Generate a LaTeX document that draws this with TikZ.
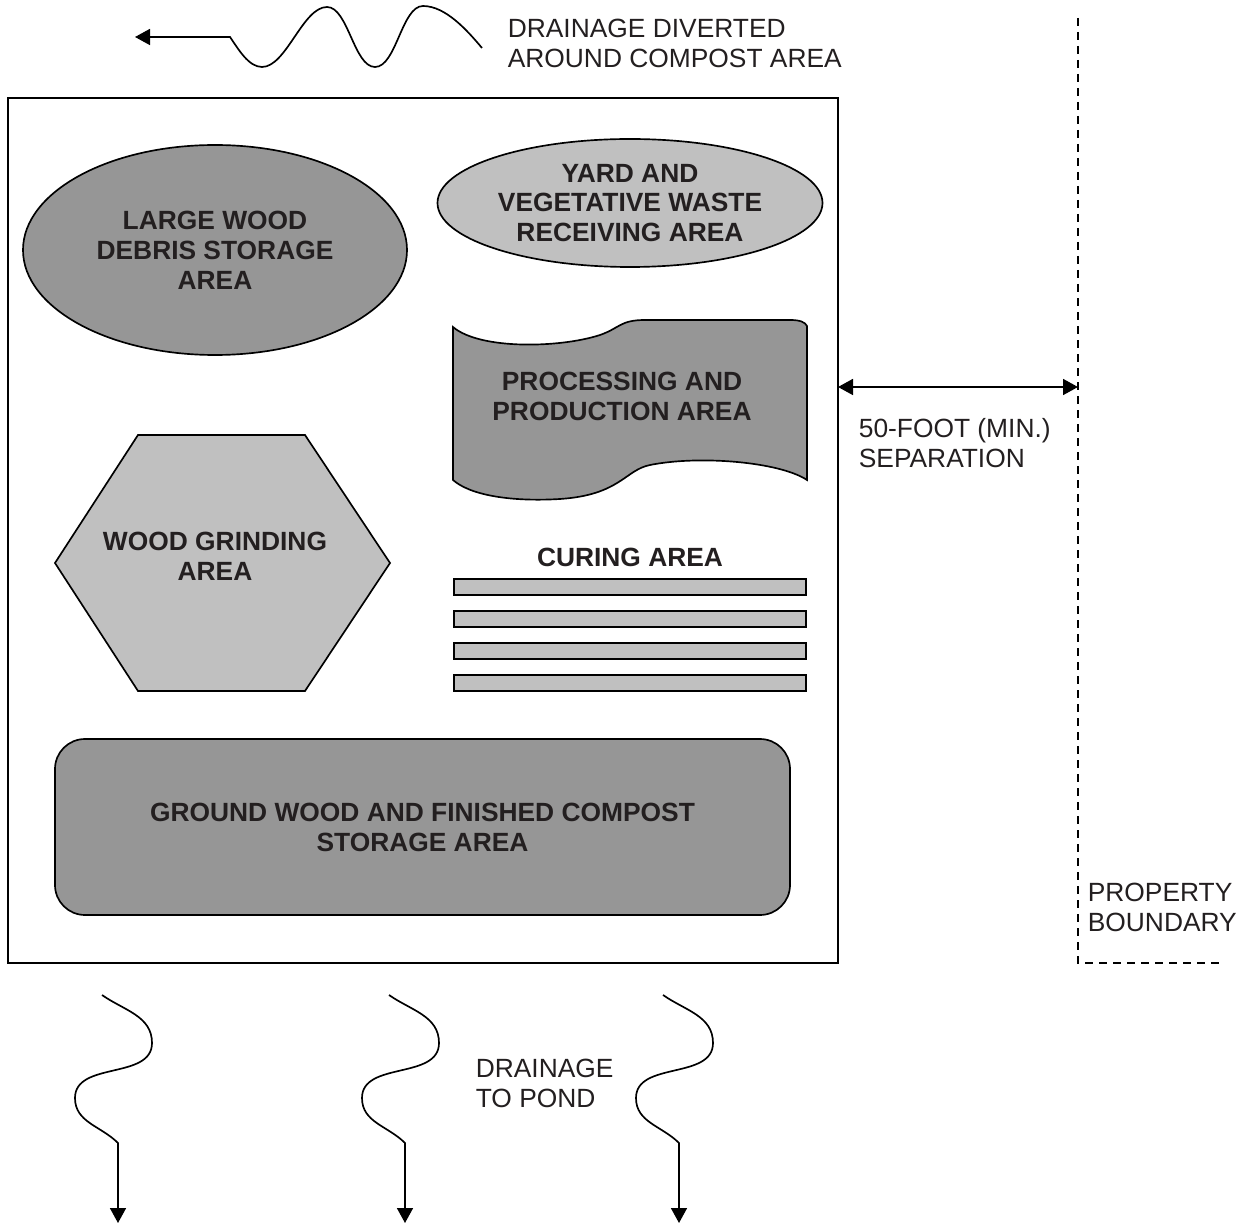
\documentclass[tikz,border=0pt]{standalone}
\usepackage{fontspec}
\setmainfont{Liberation Sans}
\usepackage{tikz}
\usetikzlibrary{positioning}
\usetikzlibrary{shapes.geometric}
\usetikzlibrary{arrows.meta}

\definecolor{darkfill}{RGB}{150,150,150}
\definecolor{lightfill}{RGB}{192,192,192}
\definecolor{inkgray}{RGB}{35,31,32}

\begin{document}
\begin{tikzpicture}[x=0.2mm, y=-0.2mm, line width=0.95pt,
	area/.style={font=\bfseries\fontsize{15}{17}\selectfont, text=inkgray, align=center},
	note/.style={font=\fontsize{15}{17}\selectfont, text=inkgray, align=left, anchor=west, inner sep=0pt},
	flow/.style={-{Triangle[width=3.2mm, length=3mm]}}]
	\useasboundingbox (0,0) rectangle (1247,1226);
	% compost site
	\node (site) at (423,530.5) [draw, minimum width=166mm, minimum height=173mm] {};
	\node (wood) at (215,250) [area, ellipse, draw, fill=darkfill, inner sep=0pt, minimum width=76.8mm, minimum height=42mm] {LARGE WOOD\\DEBRIS STORAGE\\AREA};
	\node (yard) at (630,203) [area, ellipse, draw, fill=lightfill, inner sep=0pt, minimum width=77mm, minimum height=25.6mm] {YARD AND\\VEGETATIVE WASTE\\RECEIVING AREA};
	% processing area (wavy sheet)
	\draw[fill=darkfill] (453,327) .. controls (480,350) and (560,348) .. (600,335) .. controls (620,328) and (620,320) .. (645,320) -- (790,320) .. controls (800,320) and (805,322) .. (807,326) -- (807,480) .. controls (780,462) and (700,455) .. (650,465) .. controls (625,470) and (620,495) .. (560,499) .. controls (510,502) and (470,495) .. (453,480) -- cycle;
	\node (proc) at (622,396) [area] {PROCESSING AND\\PRODUCTION AREA};
	% grinding area
	\draw[fill=lightfill] (55,563) -- (138,435) -- (305,435) -- (390,563) -- (305,691) -- (138,691) -- cycle;
	\node (grind) at (215,556) [area] {WOOD GRINDING\\AREA};
	% curing rows
	\node (curing) at (630,557) [area] {CURING AREA};
	\foreach \i in {0,...,3}
		\node (bar\i) at (630, 587 + 32 * \i) [draw, fill=lightfill, minimum width=70.4mm, minimum height=3.2mm, inner sep=0pt] {};
	\node (ground) at (422.5,827) [area, draw, fill=darkfill, rounded corners=6mm, minimum width=147mm, minimum height=35.2mm] {GROUND WOOD AND FINISHED COMPOST\\STORAGE AREA};
	% property boundary
	\coordinate (pbtop) at (1078,18);
	\coordinate (pbcorner) at (1078,963);
	\coordinate (pbend) at (1225,963);
	\draw[dash pattern=on 1.6mm off 1.2mm] (pbtop) -- (pbcorner) -- (pbend);
	\node (pblabel) at (1087,907.5) [note] {PROPERTY\\BOUNDARY};
	% separation
	\coordinate (sepL) at (838,387);
	\coordinate (sepR) at (1078,387);
	\draw[{Triangle[width=3.2mm, length=3mm]}-{Triangle[width=3.2mm, length=3mm]}] (sepL) -- (sepR);
	\node (seplabel) at (858,443) [note] {50-FOOT (MIN.)\\SEPARATION};
	% diverted drainage
	\coordinate (divstart) at (482,48);
	\coordinate (divtip) at (135,37);
	\draw[flow] (divstart) to[out=130, in=0, looseness=0.8] (423,6) to[out=180, in=0, looseness=0.7] (375,67) to[out=180, in=0, looseness=0.7] (327,7) to[out=180, in=0, looseness=0.7] (262,67) to[out=180, in=-55, looseness=0.8] (230,37) -- (divtip);
	\node (divlabel) at (507,43.5) [note] {DRAINAGE DIVERTED\\AROUND COMPOST AREA};
	% drainage to pond
	\foreach \d [count=\n] in {0,287,561} {
		\coordinate (pond\n) at (118 + \d,1223);
		\draw[flow] (102 + \d,995) to[out=-35, in=90] (152 + \d,1043) to[out=-90, in=90] (75 + \d,1098) to[out=-90, in=135] (118 + \d,1143) -- (pond\n);
	}
	\node (pondlabel) at (475,1083) [note] {DRAINAGE\\TO POND};
\end{tikzpicture}
\end{document}
